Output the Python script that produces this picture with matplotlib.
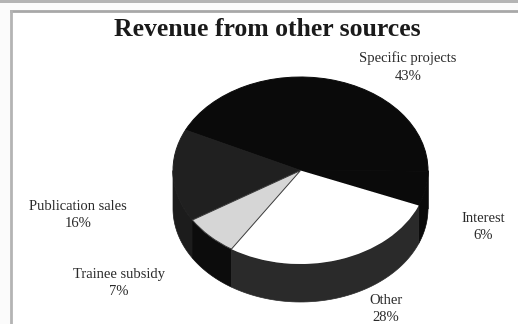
import matplotlib
matplotlib.use('Agg')
import matplotlib.pyplot as plt
from matplotlib.patches import Rectangle
import numpy as np

plt.rcParams['font.family'] = ['Liberation Serif', 'DejaVu Serif']

W, H = 518, 324

# counter-clockwise from the right-hand edge of the pie
labels = ['Interest', 'Specific projects', 'Publication sales', 'Trainee subsidy', 'Other']
shares = [6, 43, 16, 7, 28]
top_colors = ['#0a0a0a', '#0a0a0a', '#202020', '#d6d6d6', '#ffffff']
wall_colors = ['#0a0a0a', '#0a0a0a', '#1c1c1c', '#0c0c0c', '#2a2a2a']
edge_colors = ['#0a0a0a', '#0a0a0a', '#202020', '#3a3a3a', 'none']
label_pos = [(483, 218), (408, 58), (78, 206), (119, 274), (386, 300)]
title = 'Revenue from other sources'

start_angle = -22
depth = 38 / 93.5


def side_wall(ax, a0, a1, color):
    # only the front half of the rim can be seen
    a0, a1 = max(a0, 180), min(a1, 360)
    if a1 <= a0:
        return
    t = np.radians(np.linspace(a0, a1, 60))
    x = np.cos(t)
    y = np.sin(t)
    ax.fill(np.r_[x, x[::-1]], np.r_[y, y[::-1] - depth], color=color, lw=0.5, clip_on=False)


fig = plt.figure(figsize=(W / 100, H / 100), dpi=100, facecolor='#fbfbfb')

back = fig.add_axes([0, 0, 1, 1])
back.set_xlim(0, W)
back.set_ylim(H, 0)
back.axis('off')
back.add_patch(Rectangle((0, 0), W, 3, color='#b4b4b4', lw=0))
back.add_patch(Rectangle((11, 10), W - 11, H - 10, facecolor='white', edgecolor='none'))
back.plot([11, W], [11, 11], color='#a8a8a8', lw=2)
back.plot([11, 11], [11, H], color='#b4b4b4', lw=2)

back.text(267, 29, title, ha='center', va='center', fontsize=18.5, fontweight='bold',
          color='#1a1a1a')
for name, share, (x, y) in zip(labels, shares, label_pos):
    back.text(x, y + 9, '%s\n%d%%' % (name, share), ha='center', va='center',
              fontsize=10.5, color='#2a2a2a', linespacing=1.45)

# the axes box is the bounding box of the top ellipse
box = [173 / W, 1 - 264 / H, 255 / W, 187 / H]
pie_ax = fig.add_axes(box)
edges = start_angle + np.cumsum([0] + shares) * 3.6
for i in range(len(shares)):
    side_wall(pie_ax, edges[i], edges[i + 1], wall_colors[i])
    side_wall(pie_ax, edges[i] + 360, edges[i + 1] + 360, wall_colors[i])

wedges, _ = pie_ax.pie(shares, colors=top_colors, startangle=start_angle, radius=1)
for wedge, edge in zip(wedges, edge_colors):
    wedge.set_edgecolor(edge)
    wedge.set_linewidth(0.7)
wedges[3].set_zorder(wedges[4].get_zorder() + 1)
pie_ax.set_aspect('auto')
pie_ax.set_xlim(-1, 1)
pie_ax.set_ylim(-1, 1)
pie_ax.set_position(box)
pie_ax.patch.set_alpha(0)

fig.savefig('out.png', dpi=100, facecolor=fig.get_facecolor())
